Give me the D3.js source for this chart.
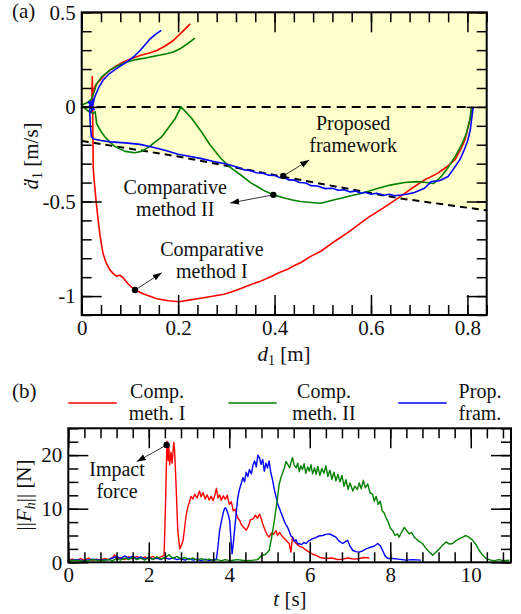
<!DOCTYPE html>
<html>
<head>
<meta charset="utf-8">
<script src="https://cdn.jsdelivr.net/npm/d3@7"></script>
<style>
  html, body { margin: 0; padding: 0; background: #fff; }
  text { font-family: "Liberation Serif", "Times New Roman", serif; fill: #111; }
</style>
</head>
<body>
<div id="chart"></div>
<script>
// ---- panel (a): phase portrait  [d1 (m), d1dot (m/s)] ----
var redPhase = [[0.809,0],[0.806,-0.06],[0.8,-0.12],[0.795,-0.175],[0.785,-0.23],[0.774,-0.28],[0.758,-0.315],[0.739,-0.35],[0.711,-0.386],[0.685,-0.43],[0.656,-0.482],[0.625,-0.535],[0.593,-0.587],[0.57,-0.63],[0.551,-0.666],[0.525,-0.71],[0.496,-0.763],[0.475,-0.79],[0.454,-0.824],[0.44,-0.84],[0.426,-0.86],[0.41,-0.875],[0.392,-0.898],[0.371,-0.921],[0.35,-0.94],[0.33,-0.96],[0.315,-0.974],[0.295,-0.99],[0.274,-1.0],[0.25,-1.01],[0.225,-1.02],[0.202,-1.03],[0.18,-1.025],[0.156,-1.014],[0.13,-0.99],[0.11,-0.968],[0.096,-0.935],[0.086,-0.903],[0.079,-0.89],[0.072,-0.895],[0.065,-0.88],[0.058,-0.86],[0.05,-0.82],[0.044,-0.772],[0.038,-0.68],[0.034,-0.596],[0.03,-0.5],[0.027,-0.42],[0.024,-0.33],[0.023,-0.1],[0.022,0.16],[0.021,0.05],[0.02,0.0],[0.024,0.088],[0.03,0.12],[0.0375,0.14],[0.048,0.17],[0.058,0.193],[0.072,0.217],[0.086,0.237],[0.104,0.256],[0.121,0.272],[0.14,0.285],[0.156,0.298],[0.173,0.322],[0.19,0.351],[0.208,0.395],[0.225,0.439]];
var greenPhase = [[0.809,0],[0.805,-0.07],[0.798,-0.14],[0.788,-0.2],[0.775,-0.26],[0.76,-0.32],[0.745,-0.37],[0.73,-0.405],[0.715,-0.4],[0.697,-0.395],[0.67,-0.4],[0.642,-0.412],[0.615,-0.43],[0.593,-0.447],[0.575,-0.46],[0.558,-0.47],[0.54,-0.482],[0.524,-0.491],[0.51,-0.5],[0.496,-0.509],[0.475,-0.505],[0.454,-0.5],[0.437,-0.492],[0.42,-0.482],[0.398,-0.465],[0.38,-0.445],[0.364,-0.421],[0.35,-0.4],[0.33,-0.36],[0.308,-0.32],[0.288,-0.27],[0.266,-0.2],[0.246,-0.123],[0.228,-0.06],[0.206,0.0],[0.194,-0.061],[0.18,-0.11],[0.166,-0.158],[0.15,-0.19],[0.138,-0.214],[0.124,-0.235],[0.11,-0.242],[0.09,-0.235],[0.069,-0.21],[0.058,-0.185],[0.048,-0.158],[0.04,-0.13],[0.031,-0.088],[0.028,-0.026],[0.024,-0.035],[0.012,-0.02],[0.0,0.01],[0.01,0.02],[0.02,0.04],[0.026,0.08],[0.031,0.123],[0.042,0.16],[0.058,0.193],[0.075,0.218],[0.093,0.237],[0.113,0.25],[0.135,0.26],[0.155,0.27],[0.176,0.281],[0.19,0.29],[0.204,0.307],[0.22,0.335],[0.235,0.363]];
var bluePhase = [[0.812,0],[0.809,-0.06],[0.806,-0.12],[0.801,-0.175],[0.793,-0.23],[0.784,-0.28],[0.772,-0.325],[0.76,-0.368],[0.742,-0.39],[0.725,-0.395],[0.711,-0.43],[0.69,-0.452],[0.676,-0.46],[0.662,-0.466],[0.649,-0.47],[0.638,-0.462],[0.627,-0.467],[0.612,-0.456],[0.6,-0.462],[0.589,-0.451],[0.579,-0.456],[0.568,-0.445],[0.556,-0.449],[0.544,-0.438],[0.532,-0.441],[0.52,-0.43],[0.505,-0.432],[0.489,-0.418],[0.475,-0.416],[0.465,-0.402],[0.452,-0.4],[0.44,-0.387],[0.43,-0.386],[0.42,-0.374],[0.41,-0.373],[0.4,-0.362],[0.388,-0.361],[0.375,-0.35],[0.362,-0.348],[0.35,-0.336],[0.338,-0.333],[0.325,-0.32],[0.3,-0.302],[0.274,-0.289],[0.246,-0.272],[0.22,-0.26],[0.2,-0.25],[0.176,-0.232],[0.15,-0.215],[0.121,-0.198],[0.09,-0.19],[0.06,-0.185],[0.04,-0.178],[0.025,-0.17],[0.02,-0.158],[0.018,-0.1],[0.017,-0.04],[0.016,-0.02],[0.022,0.03],[0.014,0.025],[0.026,-0.015],[0.015,0.0],[0.024,0.04],[0.02,-0.025],[0.027,0.053],[0.035,0.1],[0.044,0.14],[0.057,0.175],[0.072,0.202],[0.093,0.237],[0.108,0.265],[0.121,0.298],[0.132,0.33],[0.142,0.36],[0.153,0.383],[0.165,0.404]];
var safeBound = [[0,-0.18],[0.2,-0.262],[0.42,-0.37],[0.656,-0.482],[0.84,-0.547]];
var zeroLine = [[0,0],[0.81,0]];

// ---- panel (b): contact force norm  [t (s), |F_h| (N)] ----
var redForce = [[0,0.4],[0.1,0.6],[0.2,0.3],[0.3,0.7],[0.4,0.4],[0.5,0.8],[0.6,0.3],[0.7,0.6],[0.8,0.4],[0.9,0.7],[1.0,0.5],[1.1,0.9],[1.15,1.4],[1.2,0.6],[1.3,0.9],[1.4,0.5],[1.5,1.0],[1.6,0.6],[1.7,1.1],[1.8,0.7],[1.9,1.0],[2.0,0.6],[2.1,1.1],[2.2,0.7],[2.3,1.0],[2.38,1.3],[2.42,12],[2.45,22.6],[2.48,19],[2.5,21.5],[2.52,18.2],[2.55,20.5],[2.58,18.5],[2.62,22.4],[2.64,21],[2.68,14],[2.72,5.9],[2.77,2.5],[2.81,3.2],[2.85,4.0],[2.9,7],[2.93,8.9],[2.97,10.3],[3.01,11.2],[3.05,12.3],[3.1,11.8],[3.14,12.7],[3.2,12.0],[3.26,13.3],[3.3,12.2],[3.35,13.0],[3.4,11.8],[3.45,12.6],[3.5,11.6],[3.55,12.3],[3.6,11.5],[3.65,12.8],[3.68,13.8],[3.72,12.0],[3.76,12.6],[3.8,11.6],[3.85,12.4],[3.9,11.8],[3.95,12.5],[4.0,10.8],[4.05,11.3],[4.1,9.6],[4.15,9.9],[4.2,8.4],[4.26,7.8],[4.3,7.0],[4.35,6.6],[4.42,6.0],[4.48,6.8],[4.52,7.9],[4.59,8.1],[4.65,8.8],[4.7,8.2],[4.75,9.0],[4.8,8.0],[4.83,7.2],[4.9,5.8],[4.95,5.0],[4.99,4.7],[5.05,5.5],[5.1,5.2],[5.16,5.9],[5.2,5.0],[5.25,5.6],[5.33,4.7],[5.4,4.2],[5.45,3.8],[5.49,3.5],[5.53,1.9],[5.57,4.7],[5.61,4.0],[5.66,3.5],[5.74,3.0],[5.82,2.8],[5.9,2.3],[5.99,1.9],[6.08,1.5],[6.16,1.3],[6.25,0.9],[6.4,0.7],[6.55,0.8],[6.7,0.5],[6.82,0.6],[6.95,0.8],[7.1,0.6],[7.23,0.7],[7.35,0.9],[7.48,0.8]];
var blueForce = [[0,0.3],[0.2,0.5],[0.4,0.3],[0.6,0.6],[0.8,0.4],[1.0,0.5],[1.1,0.8],[1.2,1.1],[1.3,0.7],[1.4,1.2],[1.5,0.8],[1.6,1.1],[1.7,0.7],[1.8,1.0],[1.9,0.6],[2.0,0.9],[2.1,0.6],[2.2,0.8],[2.3,0.5],[2.4,0.9],[2.5,0.6],[2.6,0.8],[2.7,0.5],[2.8,0.7],[2.9,0.4],[3.0,0.7],[3.1,0.4],[3.2,0.6],[3.3,0.3],[3.4,0.6],[3.5,0.3],[3.6,0.5],[3.68,0.6],[3.72,3],[3.76,5.9],[3.8,7.5],[3.86,9.6],[3.9,10.2],[3.93,9.9],[3.97,9],[4.01,7.8],[4.04,4.5],[4.07,1.6],[4.1,3.5],[4.13,5.9],[4.17,9],[4.21,12],[4.25,13.5],[4.3,14.8],[4.34,15.8],[4.38,15],[4.42,16.8],[4.46,16],[4.5,17.3],[4.55,16.5],[4.59,18.2],[4.63,18.9],[4.67,17.8],[4.71,20.0],[4.75,19.5],[4.79,18.3],[4.83,19.2],[4.87,17],[4.91,18.5],[4.95,17.6],[4.99,18.9],[5.03,16.8],[5.08,15.2],[5.12,13.5],[5.16,12.3],[5.2,10.9],[5.25,10.0],[5.29,9.2],[5.33,8.4],[5.37,7.6],[5.41,7.0],[5.45,6.5],[5.5,5.6],[5.53,4.9],[5.57,4.7],[5.62,3.9],[5.66,4.2],[5.7,3.4],[5.74,3.5],[5.8,3.3],[5.85,3.7],[5.91,3.5],[5.97,4.0],[6.02,4.2],[6.07,4.4],[6.15,4.6],[6.22,4.9],[6.32,5.0],[6.4,5.2],[6.49,5.3],[6.57,5.0],[6.65,4.7],[6.72,4.0],[6.82,3.5],[6.88,3.8],[6.94,4.1],[7.0,3.0],[7.07,2.2],[7.15,2.0],[7.23,1.9],[7.3,2.1],[7.4,2.5],[7.5,2.8],[7.6,3.0],[7.69,3.5],[7.75,3.1],[7.81,2.2],[7.87,1.2],[7.94,0.7],[8.06,0.7],[8.2,0.6],[8.39,0.4],[8.55,0.5],[8.76,0.4]];
var greenForce = [[0,0.3],[0.2,0.4],[0.4,0.2],[0.6,0.5],[0.8,0.3],[1.0,0.5],[1.1,0.3],[1.2,0.7],[1.3,0.4],[1.4,0.8],[1.5,0.5],[1.6,0.9],[1.7,0.5],[1.8,0.8],[1.9,0.4],[2.0,0.9],[2.1,0.5],[2.2,1.0],[2.3,0.6],[2.4,0.9],[2.5,1.4],[2.6,0.7],[2.7,1.1],[2.8,0.6],[2.9,0.9],[3.0,0.5],[3.1,0.8],[3.2,0.4],[3.3,0.7],[3.4,0.4],[3.5,0.6],[3.6,0.3],[3.7,0.5],[3.8,0.3],[3.9,0.5],[4.0,0.3],[4.2,0.5],[4.4,0.3],[4.6,0.4],[4.7,0.5],[4.8,1.2],[4.9,1.5],[4.99,2.2],[5.05,4.5],[5.12,7.8],[5.18,11],[5.24,14.6],[5.3,16.2],[5.37,17.6],[5.41,18.8],[5.45,18.3],[5.5,17.6],[5.53,18.6],[5.57,19.5],[5.61,18.2],[5.66,17.6],[5.7,18.5],[5.74,16.9],[5.78,18.0],[5.82,17.3],[5.86,18.4],[5.9,16.6],[5.95,17.8],[5.99,17.0],[6.03,18.2],[6.07,16.5],[6.12,17.6],[6.16,16.4],[6.2,17.9],[6.25,16.2],[6.3,17.5],[6.35,16.6],[6.4,18.0],[6.45,16.0],[6.5,17.2],[6.55,15.5],[6.6,16.8],[6.65,15.2],[6.7,16.4],[6.75,15.0],[6.8,16.2],[6.85,14.2],[6.9,15.4],[6.95,13.6],[7.0,14.8],[7.07,13.3],[7.12,14.2],[7.18,13.6],[7.23,14.8],[7.28,13.7],[7.33,15.3],[7.38,13.9],[7.44,14.6],[7.5,12.9],[7.56,12.7],[7.6,11.4],[7.65,12.3],[7.7,10.8],[7.75,11.4],[7.8,9.6],[7.85,9.2],[7.89,8.4],[7.95,7.5],[8.0,6.4],[8.06,5.9],[8.12,5.0],[8.18,5.3],[8.22,4.7],[8.28,5.6],[8.35,6.5],[8.4,6.0],[8.47,5.3],[8.53,5.6],[8.6,4.6],[8.64,4.4],[8.7,4.0],[8.8,3.5],[8.88,2.7],[8.97,1.9],[9.05,1.3],[9.12,1.8],[9.22,2.5],[9.3,3.2],[9.39,3.8],[9.47,3.4],[9.55,3.5],[9.63,4.0],[9.72,4.4],[9.8,4.7],[9.88,5.0],[9.95,4.7],[10.05,4.1],[10.13,3.3],[10.21,2.2],[10.3,1.3],[10.38,0.7],[10.5,0.4],[10.6,0.3],[10.7,0.5],[10.8,0.3],[10.96,0.4]];

// tick values and labels
var aXTicks = [0, 0.2, 0.4, 0.6, 0.8];
var aXLabels = ['0', '0.2', '0.4', '0.6', '0.8'];
var aYTicks = [-1, -0.5, 0, 0.5];
var aYLabels = ['-1', '-0.5', '0', '0.5'];
var bXTicks = [0, 2, 4, 6, 8, 10];
var bXLabels = ['0', '2', '4', '6', '8', '10'];
var bYTicks = [0, 10, 20];
var bYLabels = ['0', '10', '20'];
var legendNames = [['Comp.', 'meth. I'], ['Comp.', 'meth. II'], ['Prop.', 'fram.']];

var RED = '#ff0000', GREEN = '#008000', BLUE = '#0000ff';

var svg = d3.select('#chart').append('svg').attr('width', 521).attr('height', 614);

svg.append('defs').append('marker')
  .attr('id', 'arr').attr('viewBox', '0 0 10 10')
  .attr('refX', 10).attr('refY', 5)
  .attr('markerWidth', 9).attr('markerHeight', 9)
  .attr('markerUnits', 'userSpaceOnUse').attr('orient', 'auto')
  .append('path').attr('d', 'M0,1.5L10,5L0,8.5z').attr('fill', '#000');

// scales
var xa = d3.scaleLinear().domain([0, 0.84]).range([81.7, 486.7]);
var ya = d3.scaleLinear().domain([-1.1, 0.5]).range([315, 12.3]);
var xb = d3.scaleLinear().domain([0, 11]).range([68.3, 511]);
var yb = d3.scaleLinear().domain([0, 25]).range([562.3, 428.3]);

function lineFor(x, y) {
  return d3.line().x(function(d) { return x(d[0]); }).y(function(d) { return y(d[1]); });
}

function axes(g, x, y, xMaj, xMin, xLab, yMaj, yMin, yLab, xPad) {
  var y0 = y.range()[0], y1 = y.range()[1], x0 = x.range()[0], x1 = x.range()[1];
  var fmtX = function(d, i) { return xLab[i]; };
  var fmtY = function(d, i) { return yLab[i]; };
  g.append('g').attr('transform', 'translate(0,' + y0 + ')')
    .call(d3.axisBottom(x).tickValues(xMin).tickSize(-10).tickSizeOuter(0).tickFormat(''));
  g.append('g').attr('transform', 'translate(0,' + y0 + ')')
    .call(d3.axisBottom(x).tickValues(xMaj).tickSize(-20).tickSizeOuter(0).tickPadding(xPad).tickFormat(fmtX));
  g.append('g').attr('transform', 'translate(0,' + y1 + ')')
    .call(d3.axisTop(x).tickValues(xMin).tickSize(-10).tickSizeOuter(0).tickFormat(''));
  g.append('g').attr('transform', 'translate(0,' + y1 + ')')
    .call(d3.axisTop(x).tickValues(xMaj).tickSize(-20).tickSizeOuter(0).tickFormat(''));
  g.append('g').attr('transform', 'translate(' + x0 + ',0)')
    .call(d3.axisLeft(y).tickValues(yMin).tickSize(-10).tickSizeOuter(0).tickFormat(''));
  g.append('g').attr('transform', 'translate(' + x0 + ',0)')
    .call(d3.axisLeft(y).tickValues(yMaj).tickSize(-20).tickSizeOuter(0).tickPadding(6).tickFormat(fmtY));
  g.append('g').attr('transform', 'translate(' + x1 + ',0)')
    .call(d3.axisRight(y).tickValues(yMin).tickSize(-10).tickSizeOuter(0).tickFormat(''));
  g.append('g').attr('transform', 'translate(' + x1 + ',0)')
    .call(d3.axisRight(y).tickValues(yMaj).tickSize(-20).tickSizeOuter(0).tickFormat(''));

  g.selectAll('.domain').remove();
  g.selectAll('.tick line').attr('stroke', '#000').attr('stroke-width', 1.5);
  g.selectAll('.tick text').attr('fill', '#111')
    .style('font-family', '"Liberation Serif", serif').style('font-size', '21px');

  g.append('rect')
    .attr('x', x0).attr('y', y1).attr('width', x1 - x0).attr('height', y0 - y1)
    .attr('fill', 'none').attr('stroke', '#000').attr('stroke-width', 2);
}

// two-line label, one text per line so lines do not collide
function twoLines(g, lines, cx, base, gap) {
  lines.forEach(function(s, i) {
    g.append('text').attr('x', cx).attr('y', base + i * gap)
      .attr('text-anchor', 'middle').style('font-size', '20px').text(s);
  });
}

function note(g, lines, cx, base, dot, tip) {
  g.append('line')
    .attr('x1', dot[0]).attr('y1', dot[1]).attr('x2', tip[0]).attr('y2', tip[1])
    .attr('stroke', '#000').attr('stroke-width', 0.8).attr('marker-end', 'url(#arr)');
  g.append('circle').attr('cx', dot[0]).attr('cy', dot[1]).attr('r', 3.2).attr('fill', '#000');
  twoLines(g, lines, cx, base, 22);
}

// ---------------- panel (a) ----------------
var ga = svg.append('g');

ga.append('path').datum(safeBound)
  .attr('fill', '#ffffcc')
  .attr('d', d3.area().x(function(d) { return xa(d[0]); }).y0(ya(0.5)).y1(function(d) { return ya(d[1]); }));

ga.append('path').datum(zeroLine).attr('d', lineFor(xa, ya))
  .attr('fill', 'none').attr('stroke', '#000').attr('stroke-width', 2).attr('stroke-dasharray', '9,6');
ga.append('path').datum(safeBound).attr('d', lineFor(xa, ya))
  .attr('fill', 'none').attr('stroke', '#000').attr('stroke-width', 2).attr('stroke-dasharray', '7,5');

[[redPhase, RED], [greenPhase, GREEN], [bluePhase, BLUE]].forEach(function(s) {
  ga.append('path').datum(s[0]).attr('d', lineFor(xa, ya))
    .attr('fill', 'none').attr('stroke', s[1]).attr('stroke-width', 1.6)
    .attr('stroke-linejoin', 'round');
});

axes(ga, xa, ya, aXTicks, d3.range(0, 0.8401, 0.04), aXLabels, aYTicks, d3.range(-1.1, 0.501, 0.1), aYLabels, 5);

note(ga, ['Proposed', 'framework'], xa(0.563), ya(-0.12),
  [xa(0.418), ya(-0.365)], [xa(0.472), ya(-0.281)]);
note(ga, ['Comparative', 'method II'], xa(0.194), ya(-0.46),
  [xa(0.3975), ya(-0.465)], [xa(0.308), ya(-0.508)]);
note(ga, ['Comparative', 'method I'], xa(0.27), ya(-0.79),
  [xa(0.1106), ya(-0.968)], [xa(0.166), ya(-0.877)]);

svg.append('text').attr('x', 12).attr('y', 18).style('font-size', '21px').text('(a)');

var xl = svg.append('text').attr('x', 284).attr('y', 361).attr('text-anchor', 'middle').style('font-size', '21px');
xl.append('tspan').style('font-style', 'italic').text('d');
xl.append('tspan').attr('dy', 4).style('font-size', '14px').text('1');
xl.append('tspan').attr('dy', -4).text(' [m]');

var yl = svg.append('text').attr('transform', 'translate(38,156) rotate(-90)')
  .attr('text-anchor', 'middle').style('font-size', '21px');
yl.append('tspan').style('font-style', 'italic').text('\u1E0B');
yl.append('tspan').attr('dy', 4).style('font-size', '14px').text('1');
yl.append('tspan').attr('dy', -4).text(' [m/s]');

// ---------------- panel (b) ----------------
var gb = svg.append('g');

[[redForce, RED], [blueForce, BLUE], [greenForce, GREEN]].forEach(function(s) {
  gb.append('path').datum(s[0]).attr('d', lineFor(xb, yb))
    .attr('fill', 'none').attr('stroke', s[1]).attr('stroke-width', 1.4)
    .attr('stroke-linejoin', 'round');
});

axes(gb, xb, yb, bXTicks, d3.range(0, 11.001, 0.4), bXLabels, bYTicks, d3.range(0, 25.001, 2.5), bYLabels, 4.5);

note(gb, ['Impact', 'force'], xb(1.21), yb(16.1),
  [xb(2.443), yb(21.9)], [xb(1.70), yb(18.77)]);

svg.append('text').attr('x', 12).attr('y', 398).style('font-size', '21px').text('(b)');

// legend above panel (b)
var legendLine = [[68.3, 116.7], [228.3, 276.7], [398.3, 446.7]];
var legendText = [157, 324, 480];
[RED, GREEN, BLUE].forEach(function(c, i) {
  svg.append('line')
    .attr('x1', legendLine[i][0]).attr('x2', legendLine[i][1]).attr('y1', 403).attr('y2', 403)
    .attr('stroke', c).attr('stroke-width', 1.6);
  twoLines(svg, legendNames[i], legendText[i], 398, 22);
});

var tl = svg.append('text').attr('x', 290).attr('y', 606).attr('text-anchor', 'middle').style('font-size', '21px');
tl.append('tspan').style('font-style', 'italic').text('t');
tl.append('tspan').text(' [s]');

var fl = svg.append('text').attr('transform', 'translate(31,495) rotate(-90)')
  .attr('text-anchor', 'middle').style('font-size', '21px');
fl.append('tspan').text('||');
fl.append('tspan').style('font-style', 'italic').text('F');
fl.append('tspan').attr('dy', 4).style('font-size', '14px').style('font-style', 'italic').text('h');
fl.append('tspan').attr('dy', -4).text('|| [N]');
</script>
</body>
</html>
